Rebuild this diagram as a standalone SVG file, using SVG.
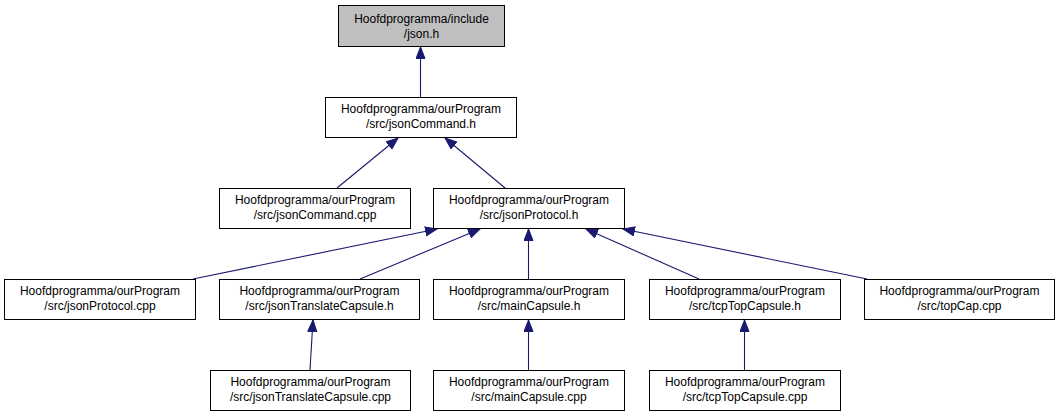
<svg xmlns="http://www.w3.org/2000/svg" width="1059" height="416" viewBox="0 0 1059 416">
<style>
.box{fill:#ffffff;stroke:#000000;stroke-width:1}
.root{fill:#bfbfbf;stroke:#000000;stroke-width:1}
text{font-family:"Liberation Sans",Arial,sans-serif;font-size:12px;fill:#000000;text-anchor:middle}
.edge{stroke:#191970;stroke-width:1.1;fill:none;marker-end:url(#ah)}
</style>
<defs>
<marker id="ah" markerUnits="userSpaceOnUse" markerWidth="13" markerHeight="11" refX="12" refY="5" orient="auto">
<path d="M0.5,0.5 L12,5 L0.5,9.5 z" fill="#191970" stroke="#191970" stroke-width="1"/>
</marker>
</defs>
<rect width="1059" height="416" fill="#ffffff"/>
<g id="connectors">
<line class="edge" x1="420.5" y1="97" x2="420.5" y2="47"/>
<line class="edge" x1="337" y1="188" x2="398" y2="138"/>
<line class="edge" x1="505" y1="188" x2="445" y2="138"/>
<line class="edge" x1="193" y1="279" x2="437" y2="229"/>
<line class="edge" x1="360" y1="279" x2="480" y2="229"/>
<line class="edge" x1="528.5" y1="279" x2="528.5" y2="229"/>
<line class="edge" x1="699" y1="279" x2="586" y2="229"/>
<line class="edge" x1="867" y1="279" x2="623" y2="229"/>
<line class="edge" x1="310" y1="370" x2="313" y2="320"/>
<line class="edge" x1="528.5" y1="370" x2="528.5" y2="320"/>
<line class="edge" x1="744.5" y1="370" x2="744.5" y2="320"/>
</g>
<g id="n_json_h">
<rect class="root" x="338.5" y="5.5" width="166" height="41"/>
<text x="421.5" y="23">Hoofdprogramma/include</text>
<text x="421.5" y="38">/json.h</text>
</g>
<g id="n_jsonCommand_h">
<rect class="box" x="325.5" y="97.5" width="191" height="40"/>
<text x="421" y="113">Hoofdprogramma/ourProgram</text>
<text x="421" y="128">/src/jsonCommand.h</text>
</g>
<g id="n_jsonCommand_cpp">
<rect class="box" x="219.5" y="188.5" width="191" height="40"/>
<text x="315" y="204">Hoofdprogramma/ourProgram</text>
<text x="315" y="219">/src/jsonCommand.cpp</text>
</g>
<g id="n_jsonProtocol_h">
<rect class="box" x="433.5" y="188.5" width="191" height="40"/>
<text x="529" y="204">Hoofdprogramma/ourProgram</text>
<text x="529" y="219">/src/jsonProtocol.h</text>
</g>
<g id="n_jsonProtocol_cpp">
<rect class="box" x="4.5" y="279.5" width="191" height="40"/>
<text x="100" y="295">Hoofdprogramma/ourProgram</text>
<text x="100" y="310">/src/jsonProtocol.cpp</text>
</g>
<g id="n_jsonTranslateCapsule_h">
<rect class="box" x="219.5" y="279.5" width="200" height="40"/>
<text x="319.5" y="295">Hoofdprogramma/ourProgram</text>
<text x="319.5" y="310">/src/jsonTranslateCapsule.h</text>
</g>
<g id="n_mainCapsule_h">
<rect class="box" x="433.5" y="279.5" width="191" height="40"/>
<text x="529" y="295">Hoofdprogramma/ourProgram</text>
<text x="529" y="310">/src/mainCapsule.h</text>
</g>
<g id="n_tcpTopCapsule_h">
<rect class="box" x="649.5" y="279.5" width="191" height="40"/>
<text x="745" y="295">Hoofdprogramma/ourProgram</text>
<text x="745" y="310">/src/tcpTopCapsule.h</text>
</g>
<g id="n_topCap_cpp">
<rect class="box" x="864.5" y="279.5" width="190" height="40"/>
<text x="959.5" y="295">Hoofdprogramma/ourProgram</text>
<text x="959.5" y="310">/src/topCap.cpp</text>
</g>
<g id="n_jsonTranslateCapsule_cpp">
<rect class="box" x="210.5" y="370.5" width="200" height="40"/>
<text x="310.5" y="386">Hoofdprogramma/ourProgram</text>
<text x="310.5" y="401">/src/jsonTranslateCapsule.cpp</text>
</g>
<g id="n_mainCapsule_cpp">
<rect class="box" x="433.5" y="370.5" width="191" height="40"/>
<text x="529" y="386">Hoofdprogramma/ourProgram</text>
<text x="529" y="401">/src/mainCapsule.cpp</text>
</g>
<g id="n_tcpTopCapsule_cpp">
<rect class="box" x="649.5" y="370.5" width="191" height="40"/>
<text x="745" y="386">Hoofdprogramma/ourProgram</text>
<text x="745" y="401">/src/tcpTopCapsule.cpp</text>
</g>
</svg>
